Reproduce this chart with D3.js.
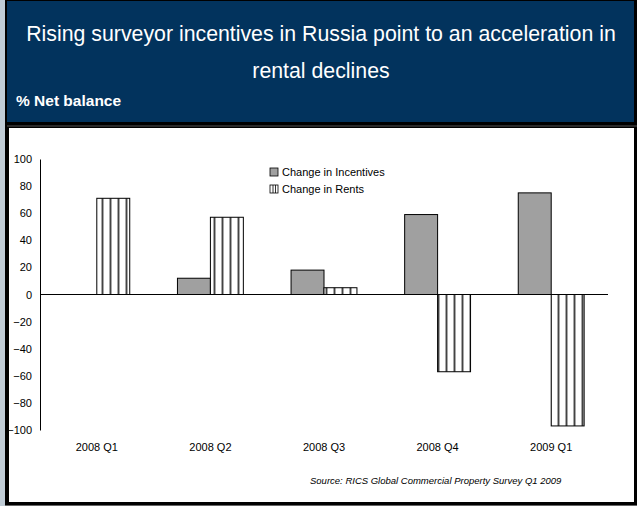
<!DOCTYPE html>
<html lang="en">
  <head>
    <meta charset="UTF-8" />
    <title>Russia incentives vs rents</title>
    <script src="https://d3js.org/d3.v7.min.js"></script>
    <style>
      body { margin: 0; background: #000; }
      svg { display: block; font-family: 'Liberation Sans', Arial, sans-serif; }
    </style>
  </head>
  <body>
    <svg width="637" height="506"></svg>
    <script>
      var quarters = ['2008 Q1', '2008 Q2', '2008 Q3', '2008 Q4', '2009 Q1']
      var incentives = [0, 12, 18, 59, 75]
      var rents = [71, 57, 5, -57, -97]
      var seriesNames = ['Change in Incentives', 'Change in Rents']
      var yTicks = [-100, -80, -60, -40, -20, 0, 20, 40, 60, 80, 100]

      var svg = d3.select('svg')

      // stripe pattern for rents
      var defs = svg.append('defs')
      var pat = defs.append('pattern')
        .attr('id', 'stripes')
        .attr('patternUnits', 'userSpaceOnUse')
        .attr('width', 8)
        .attr('height', 8)
      pat.append('rect').attr('width', 8).attr('height', 8).attr('fill', '#fff')
      pat.append('rect').attr('x', 5).attr('width', 3).attr('height', 8).attr('fill', '#a8a8a8')
      pat.append('rect').attr('x', 6).attr('width', 1).attr('height', 8).attr('fill', '#444')

      // frame
      svg.append('rect').attr('width', 637).attr('height', 506).attr('fill', '#000')
      svg.append('rect').attr('width', 5).attr('height', 506).attr('fill', '#c0ccd6')
      svg.append('rect').attr('x', 7).attr('y', 1).attr('width', 627).attr('height', 121).attr('fill', '#02335d')
      svg.append('line').attr('x1', 7).attr('x2', 637).attr('y1', 126).attr('y2', 126)
        .attr('stroke', '#555').attr('stroke-width', 1)
      svg.append('rect').attr('x', 9).attr('y', 128).attr('width', 625).attr('height', 374).attr('fill', '#fff')
      svg.append('line').attr('x1', 5).attr('x2', 637).attr('y1', 505.5).attr('y2', 505.5)
        .attr('stroke', '#666').attr('stroke-width', 1)

      // header text
      var title = svg.append('g').attr('fill', '#fff')
      title.append('text').attr('x', 321).attr('y', 41).attr('text-anchor', 'middle')
        .attr('font-size', 21.3).text('Rising surveyor incentives in Russia point to an acceleration in')
      title.append('text').attr('x', 321).attr('y', 78).attr('text-anchor', 'middle')
        .attr('font-size', 21.3).text('rental declines')
      title.append('text').attr('x', 16).attr('y', 106).attr('font-size', 15.5)
        .attr('font-weight', 'bold').text('% Net balance')

      // scales
      var x = d3.scaleBand().domain(quarters).range([40, 608])
        .paddingInner(0.42).paddingOuter(0.21)
      var xs = d3.scaleBand().domain(seriesNames).range([0, x.bandwidth()])
      var y = d3.scaleLinear().domain([-100, 100]).range([430, 159])

      var g = svg.append('g')

      // y axis
      var yAxis = g.append('g')
        .attr('transform', 'translate(40,0)')
        .call(d3.axisLeft(y).tickValues(yTicks).tickSize(0).tickPadding(8))
      yAxis.select('.domain').attr('stroke', '#000')
      yAxis.selectAll('text').attr('font-size', 11).attr('font-family', 'Liberation Sans, Arial, sans-serif')

      // bars
      var data = []
      quarters.forEach(function(q, i) {
        data.push({ q: q, s: seriesNames[0], v: incentives[i] })
        data.push({ q: q, s: seriesNames[1], v: rents[i] })
      })
      g.selectAll('.bar')
        .data(data.filter(function(d) { return d.v !== 0 }))
        .enter()
        .append('rect')
        .attr('class', 'bar')
        .attr('x', function(d) { return x(d.q) + xs(d.s) })
        .attr('width', xs.bandwidth())
        .attr('y', function(d) { return y(Math.max(0, d.v)) })
        .attr('height', function(d) { return Math.abs(y(d.v) - y(0)) })
        .attr('fill', function(d) { return d.s === seriesNames[0] ? '#a0a0a0' : 'url(#stripes)' })
        .attr('stroke', '#000')
        .attr('stroke-width', 1)

      // zero line
      g.append('line')
        .attr('x1', 40).attr('x2', 608)
        .attr('y1', y(0)).attr('y2', y(0))
        .attr('stroke', '#000')

      // x labels
      g.selectAll('.xlab')
        .data(quarters)
        .enter()
        .append('text')
        .attr('x', function(d) { return x(d) + x.bandwidth() / 2 })
        .attr('y', 451)
        .attr('text-anchor', 'middle')
        .attr('font-size', 11)
        .text(function(d) { return d })

      // legend
      var lg = g.selectAll('.leg')
        .data(seriesNames)
        .enter()
        .append('g')
        .attr('transform', function(d, i) { return `translate(270,${168 + i * 17})` })
      lg.append('rect')
        .attr('width', 8).attr('height', 8)
        .attr('fill', function(d, i) { return i === 0 ? '#a0a0a0' : '#fff' })
        .attr('stroke', '#000').attr('stroke-width', 0.8)
      lg.filter(function(d, i) { return i === 1 }).selectAll('line')
        .data([3, 5.5])
        .enter()
        .append('line')
        .attr('x1', function(d) { return d }).attr('x2', function(d) { return d })
        .attr('y1', 0).attr('y2', 8)
        .attr('stroke', '#000').attr('stroke-width', 0.8)
      lg.append('text')
        .attr('x', 12).attr('y', 8)
        .attr('font-size', 11)
        .text(function(d) { return d })

      // source
      svg.append('text')
        .attr('x', 310).attr('y', 484)
        .attr('font-size', 9.5)
        .attr('font-style', 'italic')
        .text('Source: RICS Global Commercial Property Survey Q1 2009')
    </script>
  </body>
</html>
